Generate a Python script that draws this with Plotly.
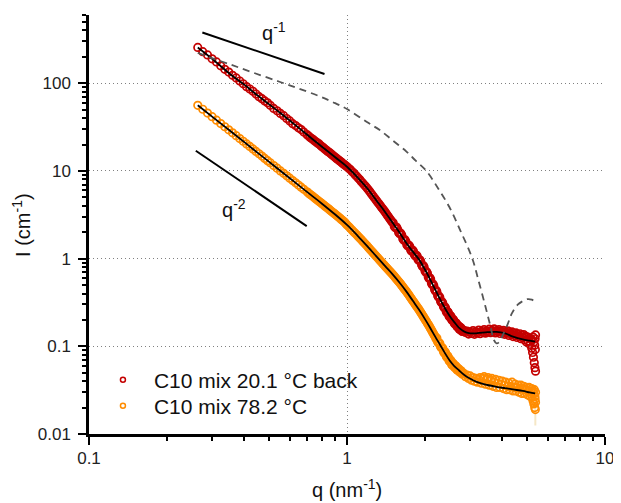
import plotly.graph_objects as go

RED = "#C40000"
ORANGE = "#FF8C00"

# ---------------- data: C10 mix 20.1 °C back ----------------
red_q = [0.264, 0.276, 0.288, 0.300, 0.312, 0.324, 0.336, 0.348, 0.360, 0.372, 0.384, 0.396,
         0.408, 0.420, 0.432, 0.444, 0.456, 0.468, 0.480, 0.492, 0.504, 0.520, 0.536, 0.552,
         0.568, 0.584, 0.600, 0.616, 0.632, 0.648, 0.664, 0.680, 0.700, 0.720, 0.740, 0.760,
         0.780, 0.800, 0.820, 0.840, 0.860, 0.880, 0.900, 0.920, 0.940, 0.960, 0.980, 1.000,
         1.03, 1.06, 1.09, 1.12, 1.15, 1.18, 1.21, 1.24, 1.27, 1.30, 1.33, 1.36, 1.39, 1.42,
         1.45, 1.48, 1.51, 1.54, 1.57, 1.60, 1.63, 1.66, 1.69, 1.72, 1.75, 1.78, 1.81, 1.84,
         1.87, 1.90, 1.93, 1.96, 1.99, 2.02, 2.05, 2.08, 2.11, 2.14, 2.17, 2.20, 2.23, 2.26,
         2.29, 2.32, 2.35, 2.38, 2.41, 2.44, 2.47, 2.50, 2.53, 2.56, 2.59, 2.62, 2.65, 2.68,
         2.71, 2.74, 2.77, 2.80,
         2.84, 2.88, 2.92, 2.96, 3.00, 3.04, 3.08, 3.12, 3.16, 3.20, 3.24, 3.28, 3.32, 3.36,
         3.40, 3.44, 3.48, 3.52, 3.56, 3.60, 3.64, 3.68, 3.72, 3.76, 3.80, 3.84, 3.88, 3.92,
         3.96, 4.00, 4.04, 4.08, 4.12, 4.16, 4.20, 4.24, 4.28, 4.32, 4.36, 4.40, 4.44, 4.48,
         4.52, 4.56, 4.60, 4.64, 4.68, 4.72, 4.76, 4.80, 4.84, 4.88, 4.92, 4.96, 5.00, 5.04,
         5.08, 5.12, 5.16, 5.20, 5.22, 5.24, 5.26, 5.28, 5.30, 5.32, 5.34, 5.35, 5.36, 5.37,
         5.38, 5.38]
red_I = [256, 229, 210, 190, 175, 158, 144, 134, 123, 115, 106, 98.6,
         91.3, 85.9, 81.0, 75.4, 70.2, 66.6, 62.8, 59.8, 56.0, 51.6, 48.4, 45.2,
         42.7, 39.6, 37.2, 34.6, 32.9, 31.0, 29.6, 27.7, 25.9, 24.0, 22.7, 21.3,
         20.3, 18.9, 17.8, 16.8, 16.0, 15.1, 14.3, 13.6, 12.9, 12.25, 11.7, 11.15,
         10.35, 9.50, 8.72, 7.97, 7.28, 6.68, 6.10, 5.54, 5.04, 4.60, 4.21, 3.86, 3.55, 3.25,
         2.98, 2.73, 2.56, 2.25, 2.18, 1.92, 1.86, 1.62, 1.58, 1.39, 1.38, 1.21, 1.21, 1.07,
         1.07, 0.95, 0.935, 0.815, 0.80, 0.70, 0.683, 0.594, 0.58, 0.505, 0.49, 0.428, 0.419, 0.365,
         0.36, 0.315, 0.312, 0.275, 0.273, 0.242, 0.243, 0.216, 0.219, 0.197, 0.200, 0.180, 0.184, 0.166,
         0.170, 0.155, 0.162, 0.148,
         0.152, 0.144, 0.149, 0.138, 0.146, 0.140, 0.151, 0.137, 0.147, 0.142, 0.153, 0.139, 0.148, 0.144,
         0.155, 0.141, 0.150, 0.146, 0.157, 0.143, 0.152, 0.147, 0.158, 0.142, 0.151, 0.147, 0.155, 0.140,
         0.149, 0.144, 0.152, 0.137, 0.146, 0.141, 0.150, 0.133, 0.143, 0.138, 0.146, 0.129, 0.139, 0.133,
         0.142, 0.126, 0.136, 0.130, 0.139, 0.122, 0.133, 0.126, 0.136, 0.118, 0.130, 0.112, 0.128, 0.115,
         0.124, 0.105, 0.121, 0.095, 0.118, 0.085, 0.128, 0.075, 0.112, 0.065, 0.103, 0.057, 0.122, 0.092,
         0.052, 0.135]
# further (interleaved) measured points of the same run
red_q2 = [0.71, 0.73, 0.75, 0.77, 0.79, 0.81, 0.83, 0.85, 0.87, 0.89, 0.91, 0.93, 0.95, 0.97, 0.99,
          1.015, 1.045, 1.075, 1.105, 1.135, 1.165, 1.195, 1.225, 1.255, 1.285, 1.315, 1.345, 1.375,
          1.405, 1.435, 1.465, 1.495, 1.525, 1.555, 1.585, 1.615, 1.645, 1.675, 1.705, 1.735, 1.765,
          1.795, 1.825, 1.855, 1.885, 1.915, 1.945, 1.975, 2.005, 2.035, 2.065, 2.095, 2.125, 2.155,
          2.185, 2.215, 2.245, 2.275, 2.305, 2.335, 2.365, 2.395, 2.425, 2.455, 2.485, 2.515, 2.545,
          2.575, 2.605, 2.635, 2.665, 2.695, 2.725, 2.755, 2.785]
red_I2 = [25.0, 23.4, 22.0, 20.7, 19.5, 18.4, 17.3, 16.4, 15.5, 14.7, 13.9, 13.2, 12.6, 12.0, 11.45,
          10.75, 9.85, 9.05, 8.28, 7.58, 6.95, 6.38, 5.82, 5.29, 4.81, 4.40, 4.03, 3.70,
          3.40, 3.11, 2.85, 2.62, 2.33, 2.29, 1.99, 1.95, 1.69, 1.65, 1.44, 1.43, 1.25,
          1.25, 1.105, 1.10, 0.98, 0.97, 0.85, 0.835, 0.728, 0.71, 0.618, 0.605, 0.525, 0.512,
          0.444, 0.436, 0.379, 0.373, 0.326, 0.322, 0.284, 0.282, 0.249, 0.249, 0.222, 0.224, 0.201,
          0.203, 0.183, 0.186, 0.169, 0.173, 0.157, 0.163, 0.149]

# ---------------- data: C10 mix 78.2 °C ----------------
orange_q = red_q
orange_I = [56.0, 50.5, 45.7, 41.6, 37.9, 34.7, 31.9, 29.4, 27.2, 25.2, 23.4, 21.8,
            20.3, 19.0, 17.8, 16.7, 15.7, 14.75, 13.9, 13.1, 12.4, 11.5, 10.75, 10.0,
            9.39, 8.80, 8.26, 7.77, 7.32, 6.91, 6.53, 6.17, 5.77, 5.40, 5.07, 4.76,
            4.48, 4.23, 3.99, 3.77, 3.57, 3.38, 3.21, 3.04, 2.88, 2.73, 2.59, 2.42,
            2.22, 2.03, 1.87, 1.72, 1.58, 1.456, 1.343, 1.238, 1.145, 1.06, 0.983, 0.914, 0.85, 0.793,
            0.742, 0.695, 0.65, 0.607, 0.567, 0.53, 0.494, 0.46, 0.43, 0.40, 0.372, 0.346, 0.322, 0.30,
            0.28, 0.262, 0.244, 0.227, 0.212, 0.197, 0.183, 0.171, 0.159, 0.148, 0.137, 0.128, 0.124, 0.109,
            0.108, 0.096, 0.095, 0.084, 0.0845, 0.0745, 0.0755, 0.067, 0.0685, 0.061, 0.063, 0.057, 0.059, 0.0535,
            0.0555, 0.0505, 0.0525, 0.048,
            0.049, 0.045, 0.047, 0.043, 0.046, 0.041, 0.044, 0.040, 0.043, 0.039, 0.042, 0.044, 0.038, 0.043,
            0.045, 0.037, 0.042, 0.044, 0.036, 0.041, 0.043, 0.035, 0.039, 0.042, 0.034, 0.038, 0.041, 0.034,
            0.037, 0.040, 0.033, 0.036, 0.039, 0.032, 0.035, 0.038, 0.032, 0.035, 0.039, 0.031, 0.034, 0.037,
            0.031, 0.034, 0.036, 0.030, 0.033, 0.036, 0.029, 0.033, 0.035, 0.029, 0.032, 0.034, 0.028, 0.031,
            0.034, 0.027, 0.030, 0.033, 0.026, 0.031, 0.024, 0.029, 0.022, 0.032, 0.020, 0.027, 0.025, 0.019,
            0.030, 0.023]
orange_q2 = red_q2
orange_I2 = [5.58, 5.23, 4.91, 4.62, 4.35, 4.11, 3.88, 3.67, 3.47, 3.29, 3.12, 2.96, 2.80, 2.66, 2.50,
             2.32, 2.12, 1.95, 1.79, 1.65, 1.52, 1.40, 1.29, 1.19, 1.10, 1.02, 0.948, 0.882,
             0.82, 0.767, 0.718, 0.672, 0.628, 0.587, 0.548, 0.512, 0.477, 0.445, 0.415, 0.386, 0.359,
             0.334, 0.311, 0.29, 0.271, 0.253, 0.235, 0.219, 0.204, 0.19, 0.177, 0.165, 0.153, 0.142,
             0.132, 0.121, 0.113, 0.110, 0.099, 0.097, 0.087, 0.087, 0.077, 0.078, 0.069, 0.070, 0.062,
             0.064, 0.058, 0.060, 0.054, 0.056, 0.0515, 0.0525, 0.0495]

# faint error bar at the end of the 78.2 °C data
err_q = [5.37, 5.37]
err_I = [0.0125, 0.030]

# ---------------- model fits (black) ----------------
fit_q = [0.264, 0.30, 0.356, 0.40, 0.439, 0.48, 0.55, 0.643, 0.72, 0.80, 0.90, 1.0, 1.1, 1.2, 1.3,
         1.4, 1.5, 1.6, 1.7, 1.8, 1.9, 2.0, 2.1, 2.2, 2.3, 2.4, 2.5, 2.6, 2.72, 2.85, 2.97, 3.2,
         3.5, 3.8, 4.1, 4.4, 4.8, 5.1, 5.36]
fit_red_I = [256, 190, 124, 96.3, 77, 62.8, 46, 31.8, 24.2, 18.9, 14.3, 11.15, 8.4, 6.3, 4.6,
             3.45, 2.58, 1.97, 1.5, 1.2, 0.98, 0.76, 0.58, 0.44, 0.34, 0.27, 0.222, 0.19, 0.162,
             0.147, 0.141, 0.141, 0.145, 0.146, 0.140, 0.129, 0.120, 0.116, 0.113]
fit_orange_I = [56, 41.6, 28.0, 21.3, 17.1, 13.9, 10.1, 7.03, 5.4, 4.23, 3.18, 2.42, 1.82, 1.38, 1.06,
                0.83, 0.665, 0.53, 0.42, 0.33, 0.262, 0.207, 0.163, 0.128, 0.103, 0.083, 0.069, 0.060,
                0.053, 0.047, 0.0435, 0.039, 0.0362, 0.0345, 0.0333, 0.0322, 0.031, 0.0298, 0.029]

# ---------------- dashed model curve ----------------
dash_q = [0.264, 0.29, 0.35, 0.43, 0.547, 0.643, 0.779, 0.88, 1.0, 1.19, 1.34, 1.5, 1.7, 1.85,
          2.03, 2.25, 2.49, 2.75, 3.06, 3.24, 3.44, 3.6, 3.71, 3.8, 3.9, 3.99, 4.2, 4.36, 4.6,
          4.77, 5.0, 5.2, 5.36]
dash_I = [222, 200, 165, 133, 104, 88, 71.3, 61, 50.7, 36.3, 29.2, 22.4, 16.6, 13.0,
          10, 6.4, 3.9, 2.09, 1.0, 0.55, 0.284, 0.168, 0.118, 0.108, 0.113, 0.129, 0.18, 0.239, 0.30,
          0.324, 0.345, 0.34, 0.32]

# ---------------- power-law guides ----------------
q1_x = [0.275, 0.818]
q1_y = [379, 127.4]
q2_x = [0.2594, 0.698]
q2_y = [17.0, 2.35]

legend_names = ["C10 mix 20.1 °C back", "C10 mix 78.2 °C"]

FONT = "Liberation Sans, Arial, sans-serif"

fig = go.Figure()

fig.add_trace(go.Scatter(x=err_q, y=err_I, mode="lines",
                         line=dict(color="rgba(238,215,160,0.6)", width=2),
                         showlegend=False, hoverinfo="skip"))
for qs, Is, col in [(red_q, red_I, RED), (red_q2, red_I2, RED),
                    (orange_q, orange_I, ORANGE), (orange_q2, orange_I2, ORANGE)]:
    fig.add_trace(go.Scatter(x=qs, y=Is, mode="markers", showlegend=False,
                             marker=dict(symbol="circle-open", size=7.5, color=col,
                                         line=dict(width=1.7, color=col))))
fig.add_trace(go.Scatter(x=fit_q, y=fit_red_I, mode="lines", showlegend=False,
                         line=dict(color="black", width=1.8, shape="spline")))
fig.add_trace(go.Scatter(x=fit_q, y=fit_orange_I, mode="lines", showlegend=False,
                         line=dict(color="black", width=1.8, shape="spline")))
fig.add_trace(go.Scatter(x=dash_q, y=dash_I, mode="lines", showlegend=False,
                         line=dict(color="#555555", width=1.8, dash="7px,5px", shape="spline")))
fig.add_trace(go.Scatter(x=q1_x, y=q1_y, mode="lines", showlegend=False,
                         line=dict(color="black", width=2)))
fig.add_trace(go.Scatter(x=q2_x, y=q2_y, mode="lines", showlegend=False,
                         line=dict(color="black", width=2)))

# legend entries (small markers as in the original), one legend box per entry
for name, col, lg in zip(legend_names, [RED, ORANGE], ["legend", "legend2"]):
    fig.add_trace(go.Scatter(x=[None], y=[None], mode="markers", name=name, legend=lg,
                             marker=dict(symbol="circle-open", size=5, color=col,
                                         line=dict(width=1.5, color=col))))

axis_common = dict(
    type="log",
    showline=True, linecolor="black", linewidth=2.5,
    ticks="outside", ticklen=8, tickwidth=2, tickcolor="black",
    showgrid=True, gridcolor="#808080", gridwidth=1, griddash="1px,3px",
    zeroline=False,
    tickfont=dict(family=FONT, size=17, color="#222222"),
    minor=dict(ticks="outside", ticklen=4, tickwidth=1.5, tickcolor="black",
               dtick="D1", showgrid=False),
)

fig.update_xaxes(range=[-1, 1], tickmode="linear", tick0=0, dtick=1,
                 ticklabelstandoff=-1, **axis_common)
fig.update_yaxes(range=[-2, 2.778], tickmode="linear", tick0=0, dtick=1,
                 ticklabelstandoff=4, **axis_common)

leg_common = dict(xanchor="left", yanchor="middle", bgcolor="rgba(0,0,0,0)", borderwidth=0,
                  font=dict(family=FONT, size=21, color="#111111"), itemwidth=52)

# the page body has an 8 px margin: the figure is shifted by (8, 8) in the window
fig.update_layout(
    width=613, height=495,
    margin=dict(l=81, r=10, t=7, b=69),
    paper_bgcolor="white", plot_bgcolor="white",
    font=dict(family=FONT, size=20, color="#111111"),
    showlegend=True,
    legend=dict(x=0.0057, y=0.1289, **leg_common),
    legend2=dict(x=0.0057, y=0.0668, **leg_common),
    annotations=[
        dict(text="I (cm<sup>-1</sup>)", xref="paper", yref="paper", x=-0.131, y=0.5,
             textangle=-90, showarrow=False, xanchor="center", yanchor="middle",
             font=dict(family=FONT, size=20, color="#111111")),
        dict(text="q (nm<sup>-1</sup>)", xref="paper", yref="paper", x=0.5, y=-0.13,
             showarrow=False, xanchor="center", yanchor="middle",
             font=dict(family=FONT, size=20, color="#111111")),
        dict(text="q<sup>-1</sup>", xref="paper", yref="paper", x=0.358, y=0.9595,
             showarrow=False, xanchor="center", yanchor="middle",
             font=dict(family=FONT, size=20, color="#111111")),
        dict(text="q<sup>-2</sup>", xref="paper", yref="paper", x=0.2816, y=0.537,
             showarrow=False, xanchor="center", yanchor="middle",
             font=dict(family=FONT, size=20, color="#111111")),
    ],
)

fig.write_html("out.html")
